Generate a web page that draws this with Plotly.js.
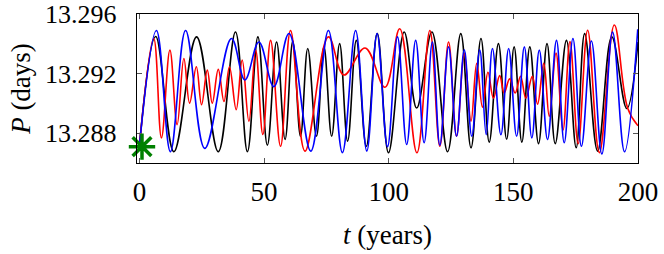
<!DOCTYPE html>
<html>
<head>
<meta charset="utf-8">
<script src="https://cdn.plot.ly/plotly-3.0.1.min.js"></script>
<style>html,body{margin:0;padding:0;background:#fff;}#chart{width:664px;height:254px;}</style>
</head>
<body>
<div id="chart"></div>
<script>
// Black series (extrema)
const blackT = [0, 6.5, 13.8, 22.9, 31.6, 38.5, 43.3, 47.5, 51.3, 55.0, 58.4, 61.5, 64.6, 67.5, 71.0, 74.0, 77.1, 80.3, 83.5, 87.0, 91.0, 95.4, 99.9, 106.2, 111.2, 117.3, 123.6, 128.9, 133.0, 137.0, 140.3, 144.0, 147.3, 150.3, 153.4, 156.6, 160.1, 163.5, 166.8, 171.3, 175.2, 178.6, 183.8, 189.5, 195.5, 200];
const blackP = [13.2872, 13.2945, 13.28676, 13.29447, 13.28676, 13.2948, 13.28676, 13.29447, 13.2872, 13.29413, 13.28758, 13.2942, 13.2878, 13.29369, 13.2878, 13.2938, 13.2878, 13.29402, 13.28747, 13.29424, 13.28713, 13.29469, 13.28669, 13.2948, 13.28969, 13.2948, 13.28676, 13.29469, 13.28702, 13.29436, 13.2874, 13.29402, 13.2876, 13.2938, 13.2874, 13.2938, 13.2873, 13.29402, 13.2873, 13.29424, 13.28702, 13.29469, 13.2868, 13.29447, 13.28966, 13.29413];

// Blue series
const blueT = [0, 6.8, 12.4, 18.5, 26.2, 36.9, 42.3, 47.9, 53.9, 60.0, 68.7, 75.8, 81.4, 86.7, 91.2, 95.3, 99.5, 103.5, 107.2, 110.8, 114.2, 117.5, 120.5, 124.0, 127.2, 130.3, 133.3, 136.5, 139.1, 141.6, 145.0, 148.1, 151.3, 154.4, 157.4, 160.4, 163.7, 167.3, 170.4, 173.9, 177.3, 181.3, 185.5, 189.8, 194.6, 199.9];
const blueP = [13.2872, 13.2949, 13.28676, 13.2949, 13.28698, 13.29436, 13.29158, 13.29413, 13.29113, 13.2947, 13.2868, 13.2949, 13.2867, 13.2949, 13.2868, 13.2947, 13.2871, 13.29447, 13.28724, 13.29424, 13.28736, 13.29413, 13.2872, 13.2938, 13.2878, 13.2936, 13.2878, 13.2936, 13.2879, 13.29369, 13.2879, 13.29369, 13.2878, 13.2938, 13.28769, 13.29358, 13.28758, 13.29424, 13.28736, 13.29436, 13.28713, 13.2942, 13.2866, 13.2948, 13.28676, 13.29498];

// Red series
const redT = [0, 5.7, 8.8, 12.2, 15.1, 17.8, 20.1, 22.8, 24.9, 27.2, 29.2, 31.6, 33.9, 36.1, 38.8, 41.2, 43.9, 46.6, 49.5, 52.6, 56.6, 60.6, 66.4, 75.8, 82.0, 90.5, 98.5, 104.4, 111.3, 116.5, 120.5, 124.0, 127.2, 130.3, 133.0, 135.3, 137.6, 139.8, 142.0, 144.5, 146.3, 148.5, 150.7, 152.9, 155.0, 157.6, 159.7, 162.2, 164.4, 167.1, 169.9, 172.7, 176.0, 179.8, 184.5, 190.5, 195.9, 200];
const redP = [13.2872, 13.29436, 13.28769, 13.29358, 13.28858, 13.29302, 13.29002, 13.29247, 13.28991, 13.29224, 13.29002, 13.29229, 13.29013, 13.29247, 13.28958, 13.29291, 13.2888, 13.29358, 13.28791, 13.29424, 13.28713, 13.2949, 13.2868, 13.29447, 13.29191, 13.29373, 13.29109, 13.29502, 13.28669, 13.2949, 13.28713, 13.29413, 13.2878, 13.29336, 13.2888, 13.29269, 13.28975, 13.2921, 13.29036, 13.29187, 13.2907, 13.29165, 13.2907, 13.29183, 13.29035, 13.29182, 13.28995, 13.29269, 13.28913, 13.29338, 13.2882, 13.29416, 13.2873, 13.29492, 13.2867, 13.29527, 13.28966, 13.2885];

// Starting point marker
const startT = [1];
const startP = [13.2871];

const yTicks = [13.288, 13.292, 13.296];
const xTicks = [0, 50, 100, 150, 200];

const serif = "Times New Roman, Liberation Serif, serif";

const traces = [
  {x: blackT, y: blackP, mode: 'lines', line: {color: '#000000', width: 1.6, shape: 'spline', smoothing: 1.1}, hoverinfo: 'skip'},
  {x: redT, y: redP, mode: 'lines', line: {color: '#ff0000', width: 1.6, shape: 'spline', smoothing: 1.1}, hoverinfo: 'skip'},
  {x: blueT, y: blueP, mode: 'lines', line: {color: '#0000ff', width: 1.6, shape: 'spline', smoothing: 1.1}, hoverinfo: 'skip'},
  {x: startT, y: startP, mode: 'markers', cliponaxis: false,
   marker: {symbol: 'asterisk-open', size: 22, color: '#008000', line: {color: '#008000', width: 3.5}}, hoverinfo: 'skip'}
];

const layout = {
  width: 664, height: 254,
  margin: {l: 137, r: 26, t: 14, b: 91},
  paper_bgcolor: '#ffffff', plot_bgcolor: '#ffffff',
  showlegend: false,
  font: {family: serif, size: 27, color: '#000'},
  xaxis: {
    range: [-1, 200], tickvals: xTicks, ticktext: xTicks.map(String),
    showgrid: false, zeroline: false, automargin: false,
    showline: true, mirror: 'ticks', linecolor: '#000', linewidth: 1.3,
    ticks: 'inside', ticklen: 5, tickcolor: '#555', tickwidth: 1,
    tickfont: {family: serif, size: 27, color: '#000'},
    ticklabelstandoff: 4, ticklabeloverflow: 'allow',
    title: {text: '<i>t</i> (years)', font: {family: serif, size: 27, color: '#000'}, standoff: 19}
  },
  yaxis: {
    range: [13.286, 13.29601], tickvals: yTicks, ticktext: yTicks.map(v => v.toFixed(3)),
    showgrid: false, zeroline: false, automargin: false,
    showline: true, mirror: 'ticks', linecolor: '#000', linewidth: 1.3,
    ticks: 'inside', ticklen: 5, tickcolor: '#555', tickwidth: 1,
    tickfont: {family: serif, size: 26, color: '#000'},
    ticklabelstandoff: 14, ticklabeloverflow: 'allow',
    title: {text: '<i>P</i> (days)', font: {family: serif, size: 27, color: '#000'}, standoff: 6}
  }
};

Plotly.newPlot('chart', traces, layout, {staticPlot: true, displayModeBar: false});
</script>
</body>
</html>
